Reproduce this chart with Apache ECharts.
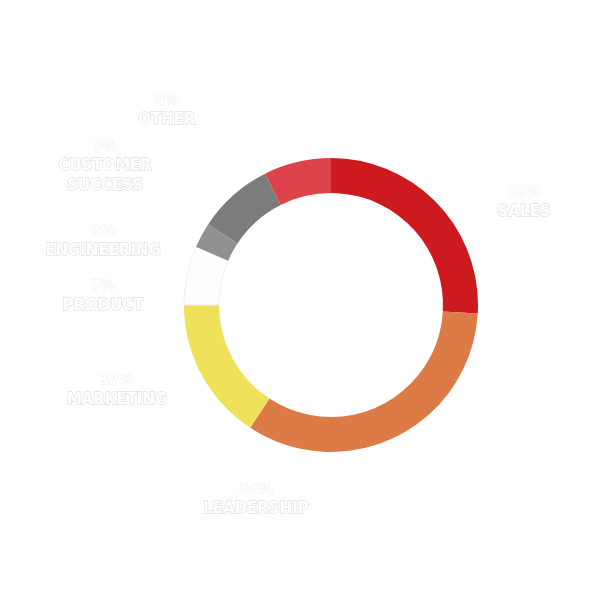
<!DOCTYPE html>
<html>
<head>
<meta charset="utf-8">
<script src="https://cdn.jsdelivr.net/npm/echarts@6/dist/echarts.min.js"></script>
<style>html,body{margin:0;padding:0;background:#fff;}#c{width:600px;height:600px;}</style>
</head>
<body>
<div id="c"></div>
<script>
var categories = ['SALES', 'LEADERSHIP', 'MARKETING', 'PRODUCT', 'ENGINEERING', 'CUSTOMER\nSUCCESS', 'OTHER'];
var values = [28, 36, 17, 7, 3, 9, 8];
var colors = ['#cc1a1f', '#dc7b46', '#f0e15a', '#fdfdfd', '#919191', '#7c7c7c', '#dd434a'];
var labelPos = [[524, 202], [256, 499], [117, 390], [103, 296], [103, 241], [105, 166], [167, 110]];

var chart = echarts.init(document.getElementById('c'));
var data = categories.map(function (n, i) {
  var d = { name: n, value: values[i], itemStyle: { color: colors[i] } };
  if (i === 3) { d.itemStyle.borderColor = '#efefef'; d.itemStyle.borderWidth = 1; }
  return d;
});
chart.setOption({
  backgroundColor: '#fff',
  animation: false,
  series: [{
    type: 'pie',
    center: [331, 305],
    radius: [112, 147],
    startAngle: 90,
    clockwise: true,
    silent: true,
    data: data,
    labelLine: { show: false },
    label: {
      show: true,
      position: 'outside',
      formatter: function (p) { return '{p|' + p.value + '%}\n{n|' + p.name.split('\n').join('}\n{n|') + '}'; },
      rich: {
        p: { fontFamily: 'DejaVu Sans', fontWeight: 'bold', fontSize: 14, color: '#fff', textBorderColor: '#eeeeee', textBorderWidth: 1.2, lineHeight: 20, align: 'center' },
        n: { fontFamily: 'DejaVu Sans', fontWeight: 'bold', fontSize: 15, color: '#fff', textBorderColor: '#e0e0e0', textBorderWidth: 1.3, lineHeight: 20, align: 'center' }
      }
    },
    labelLayout: function (params) {
      var pos = labelPos[params.dataIndex];
      return { x: pos[0], y: pos[1], align: 'center', verticalAlign: 'middle', hideOverlap: false };
    }
  }]
});
</script>
</body>
</html>
